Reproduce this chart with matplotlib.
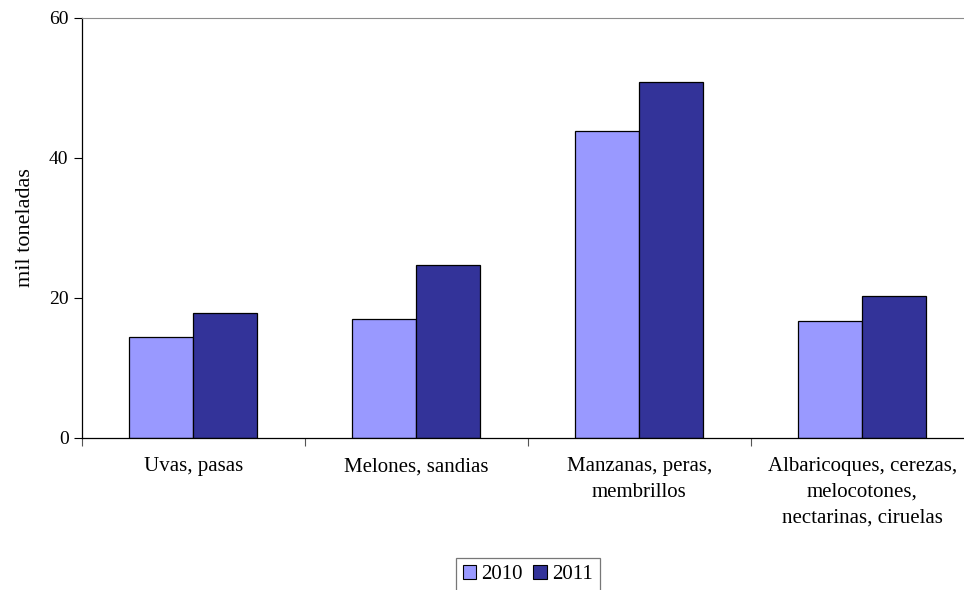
import numpy as np
import matplotlib
matplotlib.use("Agg")
import matplotlib.pyplot as plt
from matplotlib.patches import Patch

# datos (mil toneladas)
categorias = ["Uvas, pasas", "Melones, sandias", "Manzanas, peras,\nmembrillos",
              "Albaricoques, cerezas,\nmelocotones,\nnectarinas, ciruelas"]
valores_2010 = [14.5, 17.0, 43.9, 16.7]
valores_2011 = [17.8, 24.7, 50.8, 20.3]
series = ["2010", "2011"]
colores = ["#9999FF", "#333399"]

plt.rcParams["font.family"] = ["Liberation Serif", "DejaVu Serif"]
plt.rcParams["font.size"] = 14

fig = plt.figure(figsize=(9.64, 5.90), dpi=100)
ax = fig.add_axes([81.7 / 964, (590 - 438) / 590, (974 - 81.7) / 964, (438 - 18) / 590])

x = np.arange(len(categorias))
ancho = 0.287
ax.bar(x - ancho / 2, valores_2010, ancho, color=colores[0], edgecolor="black", linewidth=0.9)
ax.bar(x + ancho / 2, valores_2011, ancho, color=colores[1], edgecolor="black", linewidth=0.9)

ax.set_xlim(-0.5, len(categorias) - 0.5)
ax.set_ylim(0, 60)
ax.set_yticks([0, 20, 40, 60])
ax.set_ylabel("mil toneladas", fontsize=16, labelpad=10)

# etiquetas de categoria centradas, marcas en los limites
ax.set_xticks(np.arange(-0.5, len(categorias), 1.0))
ax.set_xticklabels([])
ax.set_xticks(x, minor=True)
ax.set_xticklabels(categorias, minor=True, linespacing=1.46, va="top", fontsize=15)
ax.tick_params(axis="x", which="minor", length=0, pad=14)
ax.tick_params(axis="x", which="major", length=6, color="#555555")
ax.tick_params(axis="y", length=5.5, pad=4)

ax.spines["right"].set_visible(False)
ax.spines["top"].set_color("#8c8c8c")
ax.spines["left"].set_linewidth(0.9)
ax.spines["bottom"].set_linewidth(0.9)

handles = [Patch(facecolor=c, edgecolor="black", linewidth=0.8) for c in colores]
leg = fig.legend(handles, series, loc="upper center", bbox_to_anchor=(527.8 / 964, 1 - 558 / 590),
                 ncol=2, frameon=True, fancybox=False, fontsize=15, handlelength=0.63,
                 handleheight=0.63, handletextpad=0.25, columnspacing=0.5, borderpad=0.35,
                 borderaxespad=0)
leg.get_frame().set_edgecolor("#555555")
leg.get_frame().set_linewidth(0.9)

fig.savefig("out.png", dpi=100)
